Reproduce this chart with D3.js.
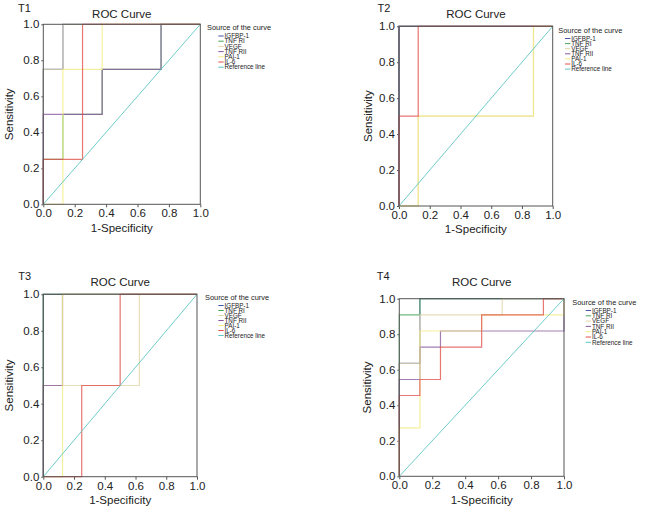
<!DOCTYPE html>
<html><head><meta charset="utf-8">
<script src="https://cdn.jsdelivr.net/npm/d3@7"></script>
<style>html,body{margin:0;padding:0;background:#fff;}svg{display:block;}text{font-family:"Liberation Sans",Arial,Helvetica,sans-serif;fill:#222;}</style>
</head><body>
<script>
// ---- data ----
const seriesNames = ["IGFBP-1","TNF RI","VEGF","TNF RII","PAI-1","IL-6"];
const legendTitle = "Source of the curve";
const refName = "Reference line";
const tickValues = [0,0.2,0.4,0.6,0.8,1.0];
const panelNames = ["T1","T2","T3","T4"];

// ROC corner points [1-specificity, sensitivity]
const t1IGFBP1 = [[0,0],[0,0.75],[0.125,0.75],[0.125,1],[1,1]];
const t1TNFRI  = [[0,0],[0,0.25],[0.125,0.25],[0.125,0.5],[0.375,0.5],[0.375,0.75],[0.75,0.75],[0.75,1],[1,1]];
const t1VEGF   = [[0,0],[0,0.75],[0.125,0.75],[0.125,1],[1,1]];
const t1TNFRII = [[0,0],[0,0.5],[0.375,0.5],[0.375,0.75],[0.75,0.75],[0.75,1],[1,1]];
const t1PAI1   = [[0,0],[0.125,0],[0.125,0.75],[0.375,0.75],[0.375,1],[1,1]];
const t1IL6    = [[0,0],[0,0.25],[0.25,0.25],[0.25,1],[1,1]];

const t2IGFBP1 = [[0,0],[0,1],[1,1]];
const t2TNFRI  = [[0,0],[0,1],[1,1]];
const t2VEGF   = [[0,0],[0.125,0],[0.125,0.5],[0.875,0.5],[0.875,1],[1,1]];
const t2TNFRII = [[0,0],[0,1],[1,1]];
const t2PAI1   = [[0,0],[0.125,0],[0.125,0.5],[0.875,0.5],[0.875,1],[1,1]];
const t2IL6    = [[0,0],[0,0.5],[0.125,0.5],[0.125,1],[1,1]];

const t3IGFBP1 = [[0,0],[0,1],[1,1]];
const t3TNFRI  = [[0,0],[0,1],[1,1]];
const t3VEGF   = [[0,0],[0,0.5],[0.125,0.5],[0.625,0.5],[0.625,1],[1,1]];
const t3TNFRII = [[0,0],[0,0.5],[0.125,0.5],[0.125,1],[1,1]];
const t3PAI1   = [[0,0],[0.125,0],[0.125,1],[1,1]];
const t3IL6    = [[0,0],[0.25,0],[0.25,0.5],[0.5,0.5],[0.5,1],[1,1]];

const t4IGFBP1 = [[0,0],[0,0.636],[0.125,0.636],[0.125,1],[1,1]];
const t4TNFRI  = [[0,0],[0,0.909],[0.125,0.909],[0.125,1],[1,1]];
const t4VEGF   = [[0,0],[0,0.636],[0.125,0.636],[0.125,0.909],[0.625,0.909],[0.625,1],[1,1]];
const t4TNFRII = [[0,0],[0,0.545],[0.125,0.545],[0.125,0.727],[0.25,0.727],[0.25,0.818],[1,0.818],[1,1]];
const t4PAI1   = [[0,0],[0,0.273],[0.125,0.273],[0.125,0.818],[0.5,0.818],[0.5,0.909],[1,0.909],[1,1]];
const t4IL6    = [[0,0],[0,0.455],[0.125,0.455],[0.125,0.545],[0.25,0.545],[0.25,0.727],[0.5,0.727],[0.5,0.909],[0.875,0.909],[0.875,1],[1,1]];

const refLine = [[0,0],[1,1]];

// ---- styles / layout ----
const seriesColors = ["#4657a8","#49a55a","#e0d5a6","#8a5a9c","#f2ec84","#e2504c"];
const refColor = "#5ec6c4";
const frameColor = "#555";

const panelCurves = [
  [t1IGFBP1,t1TNFRI,t1VEGF,t1TNFRII,t1PAI1,t1IL6],
  [t2IGFBP1,t2TNFRI,t2VEGF,t2TNFRII,t2PAI1,t2IL6],
  [t3IGFBP1,t3TNFRI,t3VEGF,t3TNFRII,t3PAI1,t3IL6],
  [t4IGFBP1,t4TNFRI,t4VEGF,t4TNFRII,t4PAI1,t4IL6]
];

const layout = [
  {x0:43.3,x1:200.3,y0:204.3,y1:24.3, tagX:18, tagY:11.5, titleY:17.5, xlabY:232, ylabX:8.5,
   legX:207, legY:30, itemX:218.3, itemY0:36, itemDy:5.2},
  {x0:399,x1:552.7,y0:206,y1:26.3, tagX:377.5, tagY:11.5, titleY:18, xlabY:233, ylabX:368,
   legX:558.3, legY:32.5, itemX:565, itemY0:38.5, itemDy:5.1},
  {x0:43.3,x1:197,y0:476.7,y1:294.3, tagX:18.3, tagY:280, titleY:285.5, xlabY:504, ylabX:8.5,
   legX:205, legY:300, itemX:218.3, itemY0:305.5, itemDy:5.0},
  {x0:399.3,x1:564,y0:476.3,y1:298.7, tagX:376.7, tagY:280, titleY:285.5, xlabY:504, ylabX:367,
   legX:572.3, legY:305, itemX:585.7, itemY0:310.5, itemDy:5.3}
];

const W = 645, H = 509;
const svg = d3.select("body").append("svg").attr("width", W).attr("height", H);

panelNames.forEach((name, i) => {
  const L = layout[i];
  const g = svg.append("g");
  const x = d3.scaleLinear().domain([0,1]).range([L.x0, L.x1]);
  const y = d3.scaleLinear().domain([0,1]).range([L.y0, L.y1]);

  // axes
  const fmt = d3.format(".1f");
  const xa = g.append("g").attr("transform", `translate(0,${L.y0})`)
    .call(d3.axisBottom(x).tickValues(tickValues).tickFormat(fmt).tickSize(3).tickPadding(2).tickSizeOuter(0));
  const ya = g.append("g").attr("transform", `translate(${L.x0},0)`)
    .call(d3.axisLeft(y).tickValues(tickValues).tickFormat(fmt).tickSize(2).tickPadding(2).tickSizeOuter(0));
  [xa, ya].forEach(a => {
    a.select(".domain").remove();
    a.selectAll("line").attr("stroke", frameColor);
    a.selectAll("text").attr("font-size", 11.5).attr("fill", "#222");
  });

  // curves
  const line = d3.line().x(d => x(d[0])).y(d => y(d[1]));
  panelCurves[i].forEach((pts, k) => {
    g.append("path").attr("d", line(pts)).attr("fill", "none")
      .attr("stroke", seriesColors[k]).attr("stroke-width", 1.2).attr("stroke-opacity", 0.78);
  });
  g.append("path").attr("d", line(refLine)).attr("fill", "none")
    .attr("stroke", refColor).attr("stroke-width", 0.9);

  // frame
  g.append("rect").attr("x", L.x0).attr("y", L.y1).attr("width", L.x1 - L.x0).attr("height", L.y0 - L.y1)
    .attr("fill", "none").attr("stroke", frameColor).attr("stroke-width", 1);

  // texts
  g.append("text").attr("x", L.tagX).attr("y", L.tagY).attr("font-size", 11).text(name);
  g.append("text").attr("x", (L.x0 + L.x1) / 2).attr("y", L.titleY).attr("text-anchor", "middle")
    .attr("font-size", 11.5).text("ROC Curve");
  g.append("text").attr("x", (L.x0 + L.x1) / 2).attr("y", L.xlabY).attr("text-anchor", "middle")
    .attr("font-size", 11.5).text("1-Specificity");
  g.append("text").attr("transform", `translate(${L.ylabX},${(L.y0 + L.y1) / 2}) rotate(-90)`)
    .attr("text-anchor", "middle").attr("dominant-baseline", "central")
    .attr("font-size", 11.5).text("Sensitivity");

  // legend
  const lg = g.append("g");
  lg.append("text").attr("x", L.legX).attr("y", L.legY).attr("font-size", 7.4).text(legendTitle);
  const items = seriesNames.map((n, k) => ({n, c: seriesColors[k]})).concat([{n: refName, c: refColor}]);
  items.forEach((it, k) => {
    const cy = L.itemY0 + k * L.itemDy;
    lg.append("line").attr("x1", L.itemX).attr("x2", L.itemX + 5.4).attr("y1", cy).attr("y2", cy)
      .attr("stroke", it.c).attr("stroke-width", 1);
    lg.append("text").attr("x", L.itemX + 6.2).attr("y", cy + 2.2).attr("font-size", 6.3).text(it.n);
  });
});
</script>
</body></html>
